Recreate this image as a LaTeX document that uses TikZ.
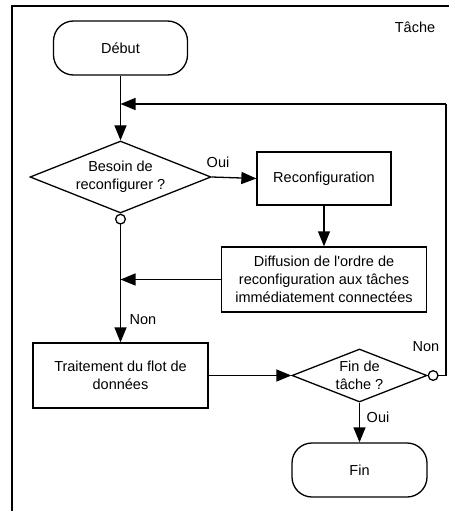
\documentclass[tikz,border=0pt]{standalone}
\usepackage{fontspec}
\setmainfont{Liberation Sans}[Ligatures=TeXOff]
\usetikzlibrary{shapes.geometric,arrows.meta}
\begin{document}
\begin{tikzpicture}[x=1pt,y=-1pt,
  every node/.style={font=\fontsize{14.5pt}{18pt}\selectfont, align=center},
  line/.style={line width=1.3pt},
  flow/.style={line, -{Triangle[length=15pt,width=12pt]}},
  flowo/.style={line, {Circle[open,length=11pt,width=11pt]}-{Triangle[length=15pt,width=12pt]}},
  proc/.style={draw, line width=1.3pt, rectangle, inner sep=0pt},
  term/.style={draw, line width=1.3pt, rectangle, rounded corners=20pt, inner sep=0pt},
  decide/.style={draw, line width=1.3pt, diamond, inner sep=0pt},
  lbl/.style={inner sep=0pt}]
\useasboundingbox (0,0) rectangle (448,511);

% enclosing task frame
\draw[line width=1.5pt] (12,520) -- (12,6) -- (460,6);
\node[lbl] (tache) at (415,27) {Tâche};

% nodes
\node[term, minimum width=134pt, minimum height=54pt] (debut) at (120.5,48) {Début};
\node[decide, aspect=2.5, minimum width=181pt, minimum height=72pt] (besoin) at (120.5,177) {Besoin de\\reconfigurer ?};
\node[proc, minimum width=134pt, minimum height=53pt] (reconf) at (324,178.5) {Reconfiguration};
\node[proc, minimum width=205pt, minimum height=65pt] (diff) at (324,279.5) {Diffusion de l'ordre de\\reconfiguration aux tâches\\immédiatement connectées};
\node[proc, minimum width=175pt, minimum height=65pt] (trait) at (120.5,375.5) {Traitement du flot de\\données};
\node[decide, aspect=2.55, minimum width=135pt, minimum height=53pt] (fintache) at (359.5,375.5) {Fin de\\tâche ?};
\node[term, minimum width=135pt, minimum height=54pt] (fin) at (359.5,470) {Fin};

% junction points on the main vertical line
\coordinate (loopin) at (120.5,104);
\coordinate (looptop) at (446,104);
\coordinate (diffin) at (120.5,279.5);

% connectors
\draw[flow] (debut) -- (besoin);
\draw[flow] (besoin.east) -- (reconf.west);
\draw[flow] (reconf) -- (diff);
\draw[flow] (diff.west) -- (diffin);
\draw[flowo] (besoin.south) -- (trait.north);
\draw[flow] (trait.east) -- (fintache.west);
\draw[flow] (fintache.south) -- (fin.north);
\draw[line, {Circle[open,length=11pt,width=11pt]}-] (fintache.east) -| (looptop);
\draw[flow] (looptop) -- (loopin);

% branch labels
\node[lbl] (oui1) at (218,162) {Oui};
\node[lbl] (non1) at (143,320) {Non};
\node[lbl] (non2) at (426,347) {Non};
\node[lbl] (oui2) at (378,417) {Oui};
\end{tikzpicture}
\end{document}
